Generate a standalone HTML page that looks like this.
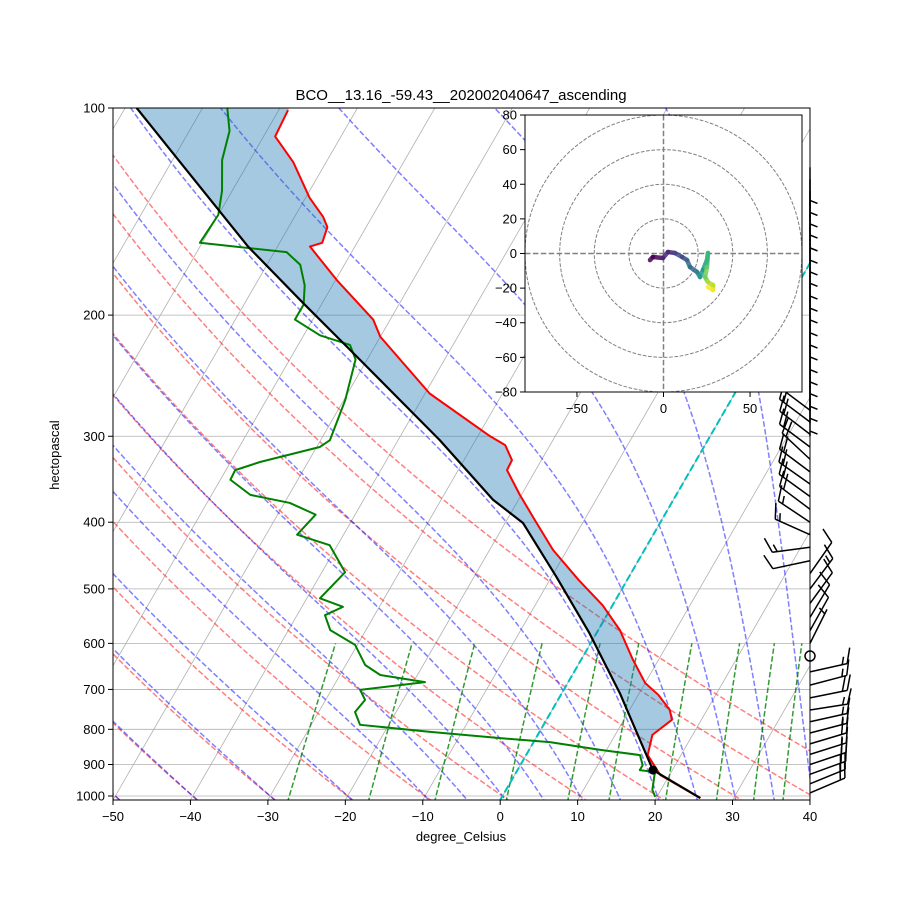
<!DOCTYPE html>
<html><head><meta charset="utf-8"><style>
html,body{margin:0;padding:0;background:#fff;}
svg text{font-family:"Liberation Sans","DejaVu Sans",sans-serif;}
</style></head><body>
<svg id="chart" width="900" height="900" viewBox="0 0 900 900" xmlns="http://www.w3.org/2000/svg">
<defs><clipPath id="plotclip"><rect x="113" y="108" width="697" height="692"/></clipPath>
<clipPath id="hodoclip"><rect x="525" y="115" width="277" height="277"/></clipPath></defs>
<rect width="900" height="900" fill="#fff"/>
<text x="461" y="100" font-size="15" text-anchor="middle">BCO__13.16_-59.43__202002040647_ascending</text>
<g id="bg" clip-path="url(#plotclip)"></g>
<g id="series" clip-path="url(#plotclip)"></g>
<rect x="113" y="108" width="697" height="692" fill="none" stroke="#000" stroke-width="1"/>
<g id="axes"></g>
<g id="barbs"></g>
<g id="hodo"></g>
<text x="59" y="455" font-size="13" text-anchor="middle" transform="rotate(-90 59 455)">hectopascal</text>
<text x="461" y="841" font-size="13" text-anchor="middle">degree_Celsius</text>
</svg>
<script>
// ---- data ----
const tempP = [1007,932,872,815,775,750,713,685,634,574,528,485,439,397,365,336,325,309,300,260,215,203,178,159,157,149,144,135,120,110,100.7];
const tempT = [25.7,18.8,15.7,14.8,16.2,15.2,12.6,10.0,6.7,2.8,-1.3,-6.3,-11.8,-16.4,-20.2,-23.7,-23.8,-25.8,-28.4,-39.4,-50.0,-52.2,-59.8,-65.8,-64.5,-65.0,-66.3,-69.5,-74.2,-78.5,-78.8];
const dewP = [1003,980,923,917,902,872,857,835,824,807,788,755,725,701,683,667,645,603,574,546,531,516,473,432,417,390,375,365,347,336,327,311,304,266,232,221,214,203,193,181,169,162,157,143,132,119,108,100];
const dewT = [19.8,18.9,17.9,15.8,15.8,14.7,9.2,2.1,-4.6,-14.1,-23.7,-25.3,-24.9,-26.3,-18.5,-24.8,-27.5,-30.3,-34.6,-36.4,-34.7,-38.3,-37.0,-41.0,-46.0,-45.1,-49.3,-55.0,-58.7,-58.8,-56.2,-49.6,-48.8,-49.8,-51.5,-53.3,-57.9,-62.3,-62.3,-63.6,-65.7,-68.4,-80.3,-80.0,-81.3,-83.6,-84.8,-86.8];
const parcelP = [1007,917,849,709,580,481,401,371,304,230,192,159,120,100];
const parcelT = [25.7,17.5,14.5,7.5,-0.9,-9.3,-17.7,-23.3,-34.6,-51.5,-62.5,-73.8,-88.8,-98.5];
const lclP = 917, lclT = 17.5;
const pTicks = [100,200,300,400,500,600,700,800,900,1000];
const tTicks = [-50,-40,-30,-20,-10,0,10,20,30,40];
const dryT0 = [-50,-40,-30,-20,-10,0,10,20,30,40,50];
const moistT0 = [-50,-40,-30,-20,-10,-5,0,5,10,15,20,25,30,35,40];
const mixRatios = [0.0004,0.001,0.002,0.004,0.007,0.01,0.016,0.024,0.032,0.04];
const hodoU = [-7.8,-6.1,-0.3,2.6,6.6,10.7,13.6,15.3,19.4,21.1,22.8,25.1,25.7,25.1,24.0,25.7,28.6,28.6,25.7];
const hodoV = [-3.8,-2.0,-2.6,0.9,0.3,-2.0,-3.8,-7.8,-10.7,-13.6,-9.5,-3.8,0.3,-7.8,-13.6,-16.5,-18.2,-21.1,-19.4];
const hodoRings = [20,40,60,80];
const hodoYTicks = [-80,-60,-40,-20,0,20,40,60,80];
const hodoXTicks = [-50,0,50];
const barbP = [122,127,132,137,143,149,155,161,168,175,182,190,198,206,215,224,233,243,253,264,275,286,298,311,324,338,352,367,383,400,417,435,455,475,500,525,550,575,600,626,660,690,720,750,780,810,840,870,900,930,960,990];
const barbU = [0,0,0,0,0,0,0,0,0,0,0,0,0,0,0,0,0,0,0,0,16,16,17,16,15,16,17,18,16,15,18,15,14,-7,-9,-8,-6,-5,-4,0,-18,-19,-20,-19,-18,-19,-20,-19,-21,-22,-22,-21];
const barbV = [8,8,8,8,8,8,8,8,8,8,8,8,8,8,8,8,8,8,8,8,-12,-12,-13,-12,-14,-12,-12,-13,-12,-10,-8,2,3,-10,-12,-11,-10,-9,-8,0,-4,-5,-4,-3,-4,-5,-6,-6,-7,-8,-9,-9];

// ---- scales ----
const NS = "http://www.w3.org/2000/svg";
const KAPPA = 0.2857;
function yP(p){return 108+688*Math.log10(p/100);}
function xT(T,p){return 113+(T+50)*7.744+(800-yP(p))*0.577;}
function mk(tag,attrs,parent){const e=document.createElementNS(NS,tag);for(const k in attrs)e.setAttribute(k,attrs[k]);parent.appendChild(e);return e;}
function pathFrom(ps,ts){return ps.map((p,i)=>(i?"L":"M")+xT(ts[i],p).toFixed(2)+","+yP(p).toFixed(2)).join("");}
const bg=document.getElementById("bg"), series=document.getElementById("series"), axes=document.getElementById("axes");

for(let T=-160;T<=40;T+=10){
  const l=mk("line",{x1:xT(T,1050),y1:yP(1050),x2:xT(T,90),y2:yP(90),stroke:"#b0b0b0","stroke-width":0.8},bg);
  
  
}
for(const p of pTicks){
  const l=mk("line",{x1:113,y1:yP(p),x2:810,y2:yP(p),stroke:"#b0b0b0","stroke-width":0.8},bg);
  
  
}
const pGrid=[];for(let p=1050;p>=95;p-=5)pGrid.push(p);
for(const t0 of dryT0){
  const ts=pGrid.map(p=>(t0+273.15)*Math.pow(p/1000,KAPPA)-273.15);
  const e=mk("path",{d:pathFrom(pGrid,ts),fill:"none",stroke:"rgba(255,0,0,0.5)","stroke-width":1.5,"stroke-dasharray":"5.5,2.4"},bg);
  
  
}
function es(Tk){return 6.112*Math.exp(17.67*(Tk-273.15)/(Tk-29.65));}
function dTdp(Tk,p){const Rd=287.04,Cp=1005.7,Lv=2.501e6,eps=0.622;const e=es(Tk);const rs=eps*e/Math.max(p-e,1);
  return (Rd*Tk+Lv*rs)/(Cp+Lv*Lv*rs*eps/(Rd*Tk*Tk))/p;}
function moist(t0){
  const up=[],down=[];let T=t0+273.15,p=1000;
  up.push([p,T]);
  while(p>95){const dp=-5;const k1=dTdp(T,p);const k2=dTdp(T+k1*dp,p+dp);T+=0.5*(k1+k2)*dp;p+=dp;up.push([p,T]);}
  T=t0+273.15;p=1000;
  while(p<1050){const dp=5;const k1=dTdp(T,p);const k2=dTdp(T+k1*dp,p+dp);T+=0.5*(k1+k2)*dp;p+=dp;down.unshift([p,T]);}
  return down.concat(up);
}
for(const t0 of moistT0){
  const pts=moist(t0);
  const e=mk("path",{d:pathFrom(pts.map(a=>a[0]),pts.map(a=>a[1]-273.15)),fill:"none",stroke:"rgba(0,0,255,0.5)","stroke-width":1.5,"stroke-dasharray":"5.5,2.4"},bg);
  
  
}
const pMix=[];for(let p=1050;p>=600;p-=10)pMix.push(p);
for(const w of mixRatios){
  const ts=pMix.map(p=>{const e=p*w/(0.622+w);const l=Math.log(e/6.112);return 243.5*l/(17.67-l);});
  const e=mk("path",{d:pathFrom(pMix,ts),fill:"none",stroke:"rgba(0,128,0,0.8)","stroke-width":1.5,"stroke-dasharray":"5.5,2.4"},bg);
  
  
}
{const e=mk("line",{x1:xT(0,1050),y1:yP(1050),x2:xT(0,90),y2:yP(90),stroke:"#00bfbf","stroke-width":2,"stroke-dasharray":"7.4,3.2"},bg);

}

function interp(ps,ts,p){const lp=Math.log(p);
  for(let i=0;i<ps.length-1;i++){const a=Math.log(ps[i]),b=Math.log(ps[i+1]);
    if((lp<=a&&lp>=b)||(lp>=a&&lp<=b)){const f=(lp-a)/(b-a);return ts[i]+f*(ts[i+1]-ts[i]);}}
  return ts[ts.length-1];}
{const ps=[];for(let p=905;p>=100;p-=1)ps.push(p);
 const envT=ps.map(p=>Math.max(interp(tempP,tempT,p),interp(parcelP,parcelT,p)));
 const parT=ps.map(p=>interp(parcelP,parcelT,p));
 let d=pathFrom(ps,envT);
 for(let i=ps.length-1;i>=0;i--)d+="L"+xT(parT[i],ps[i]).toFixed(2)+","+yP(ps[i]).toFixed(2);
 const e=mk("path",{d:d+"Z",fill:"rgba(31,119,180,0.4)",stroke:"none"},series);
 
 }
{const e=mk("path",{d:pathFrom(tempP,tempT),fill:"none",stroke:"#ff0000","stroke-width":2,"stroke-linejoin":"round"},series);
 
 }
{const e=mk("path",{d:pathFrom(dewP,dewT),fill:"none",stroke:"#008000","stroke-width":2,"stroke-linejoin":"round"},series);
 
 }
{const e=mk("path",{d:pathFrom(parcelP,parcelT),fill:"none",stroke:"#000","stroke-width":2.2,"stroke-linejoin":"round"},series);
 
 }
{const e=mk("circle",{cx:xT(lclT,lclP),cy:yP(lclP),r:4.5,fill:"#000"},series);
 
 }

for(const p of pTicks){const y=yP(p);
  mk("line",{x1:108,y1:y,x2:113,y2:y,stroke:"#000"},axes);
  const t=mk("text",{x:105,y:y+4.5,"font-size":13,"text-anchor":"end"},axes);t.textContent=p;
  
  }
for(const T of tTicks){const x=113+(T+50)*7.744;
  mk("line",{x1:x,y1:800,x2:x,y2:805,stroke:"#000"},axes);
  const t=mk("text",{x:x,y:821,"font-size":13,"text-anchor":"middle"},axes);t.textContent=(T<0?"\u2212"+(-T):T);
  
  }

const barbs=document.getElementById("barbs");
for(let i=0;i<barbP.length;i++){
  const u=barbU[i],v=barbV[i],y=yP(barbP[i]),x=810;const spd=Math.hypot(u,v);
  const g=mk("g",{},barbs);
  
  
  if(spd<2.5){mk("circle",{cx:x,cy:y,r:5,fill:"none",stroke:"#000","stroke-width":1.5},g);continue;}
  const dx=-u/spd,dy=v/spd,L=38;const tx=x+dx*L,ty=y+dy*L;
  let px=dy,py=-dx; if(py>0.3||(Math.abs(py)<=0.3&&px<0)){px=-px;py=-py;}
  let d=`M${x},${y}L${tx},${ty}`;
  let full=Math.floor(spd/10),half=(spd%10)>=5?1:0,pos=0;
  for(let k=0;k<full;k++){const sx=tx-dx*pos,sy=ty-dy*pos;d+=`M${sx},${sy}L${sx+px*15+dx*6},${sy+py*15+dy*6}`;pos+=5;}
  if(half){if(pos===0)pos=5;const sx=tx-dx*pos,sy=ty-dy*pos;d+=`M${sx},${sy}L${sx+px*7.5+dx*3},${sy+py*7.5+dy*3}`;}
  mk("path",{d:d,fill:"none",stroke:"#000","stroke-width":1.5},g);
}

const hodo=document.getElementById("hodo");
const hx=u=>663.5+u*1.731, hy=v=>253.5-v*1.731;
{const r=mk("rect",{x:525,y:115,width:277,height:277,fill:"#fff"},hodo);
 
 }
const hc=mk("g",{"clip-path":"url(#hodoclip)"},hodo);
for(const r of hodoRings){const c=mk("circle",{cx:hx(0),cy:hy(0),r:r*1.731,fill:"none",stroke:"#808080","stroke-width":1,"stroke-dasharray":"3.7,1.6"},hc);
  
  }
mk("line",{x1:525,y1:hy(0),x2:802,y2:hy(0),stroke:"#808080","stroke-width":1.5,"stroke-dasharray":"5.5,2.4"},hc);
mk("line",{x1:hx(0),y1:115,x2:hx(0),y2:392,stroke:"#808080","stroke-width":1.5,"stroke-dasharray":"5.5,2.4"},hc);
const vir=["#440154","#482878","#3e4989","#31688e","#26828e","#1f9e89","#35b779","#6ece58","#b5de2b","#fde725"];
for(let i=0;i<hodoU.length-1;i++){
  const c=vir[Math.floor(i/(hodoU.length-1)*vir.length)];
  const s=mk("line",{x1:hx(hodoU[i]),y1:hy(hodoV[i]),x2:hx(hodoU[i+1]),y2:hy(hodoV[i+1]),stroke:c,"stroke-width":4.5,"stroke-linecap":"round","stroke-opacity":0.85},hc);
  
  
}
{const r=mk("rect",{x:525,y:115,width:277,height:277,fill:"none",stroke:"#000","stroke-width":1},hodo);
 
 }
for(const v of hodoYTicks){const y=hy(v);mk("line",{x1:520,y1:y,x2:525,y2:y,stroke:"#000"},hodo);
  const t=mk("text",{x:517,y:y+4.5,"font-size":13,"text-anchor":"end"},hodo);t.textContent=v<0?"\u2212"+(-v):v;
  
  }
for(const u of hodoXTicks){const x=hx(u);mk("line",{x1:x,y1:392,x2:x,y2:397,stroke:"#000"},hodo);
  const t=mk("text",{x:x,y:413,"font-size":13,"text-anchor":"middle"},hodo);t.textContent=u<0?"\u2212"+(-u):u;
  
  }
</script>
</body></html>
